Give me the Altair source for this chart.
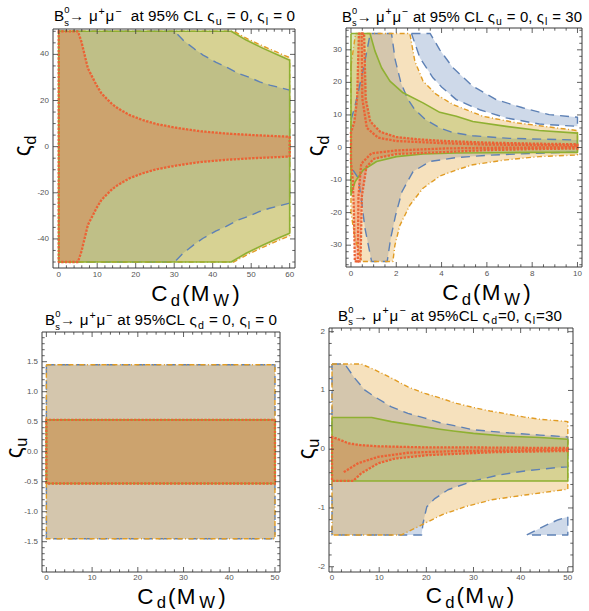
import altair as alt
import pandas as pd

BLUE = "#5E81B5"; ORANGE = "#E19C24"; GREEN = "#8FB032"; RED = "#EB6235"
FRAME = "#3a3a3a"; LABEL = "#555555"; FONT = "Liberation Sans"

# ---------------- Panel 1 : zeta_u = 0, zeta_l = 0 ----------------
p1_blue_hx = [0, 30.1, 32.3, 35.3, 37.5, 40.9, 43.5, 46.6, 49.6, 52.2, 54.8, 60]
p1_blue_hy = [50, 50, 46.2, 42.3, 39.7, 36.5, 34.6, 31.8, 30.0, 28.1, 26.7, 24.5]
p1_blue_lx = [0, 30.1, 32.3, 35.3, 37.5, 40.9, 43.5, 46.6, 49.6, 52.2, 54.8, 60]
p1_blue_ly = [-50, -50, -46.2, -42.3, -39.7, -36.5, -34.6, -31.8, -30.0, -28.1, -26.7, -24.5]
p1_orange_hx = [0, 45.5, 49.2, 53.6, 57.7, 60]
p1_orange_hy = [50, 50, 46.6, 43.2, 40.2, 38.6]
p1_orange_lx = [0, 45.5, 49.2, 53.6, 57.7, 60]
p1_orange_ly = [-50, -50, -46.6, -43.2, -40.2, -38.6]
p1_green_hx = [0, 44.8, 48.7, 53.1, 57.4, 60]
p1_green_hy = [50, 50, 46.2, 42.6, 39.4, 37.5]
p1_green_lx = [0, 44.8, 48.7, 53.1, 57.4, 60]
p1_green_ly = [-50, -50, -46.2, -42.6, -39.4, -37.5]
p1_red_hx = [0, 5.0, 5.9, 6.75, 7.6, 8.7, 9.8, 11.1, 12.4, 13.9, 15.4, 18.4, 21.9, 25.4, 30.5, 36.6, 43.5, 50.5, 60]
p1_red_hy = [50, 50, 45.5, 39.7, 33.9, 30.3, 26.7, 23.1, 20.9, 18.4, 16.6, 13.7, 11.5, 9.8, 8.2, 6.7, 5.7, 5.0, 4.3]
p1_red_lx = [0, 5.0, 5.9, 6.75, 7.6, 8.7, 9.8, 11.1, 12.4, 13.9, 15.4, 18.4, 21.9, 25.4, 30.5, 36.6, 43.5, 50.5, 60]
p1_red_ly = [-50, -50, -45.5, -39.7, -33.9, -30.3, -26.7, -23.1, -20.9, -18.4, -16.6, -13.7, -11.5, -9.8, -8.2, -6.7, -5.7, -5.0, -4.3]

# ---------------- Panel 2 : zeta_u = 0, zeta_l = 30 ----------------
p2_blue_hx = [0, 0.15, 0.35, 0.6, 0.85, 1.79, 1.95, 2.2, 2.5, 2.82, 3.3, 3.92, 4.5, 5.38, 7, 10]
p2_blue_hy = [8.5, 12, 18, 26, 35, 35, 27, 20, 15, 11.6, 8.5, 6, 4.6, 3.6, 2.8, 2.3]
p2_blue_lx = [0, 0.32, 0.47, 0.62, 0.91, 1.6, 1.75, 1.97, 2.25, 2.74, 3.48, 4.65, 6, 8, 10]
p2_blue_ly = [-6, -9.4, -16.7, -24.9, -35, -35, -28, -20.8, -13.6, -7.4, -4.3, -3.1, -2.4, -1.8, -1.4]
p2_blueb_hx = [2.67, 3.5, 3.92, 4.5, 5.38, 6.41, 7.58, 8.75, 10]
p2_blueb_hy = [35, 35, 30, 24.5, 18.8, 14.7, 12.2, 10.1, 9.3]
p2_blueb_lx = [2.67, 3.04, 3.62, 4.0, 4.65, 5.68, 6.85, 8.31, 10]
p2_blueb_ly = [35, 27.6, 21.4, 18.6, 14.7, 11.6, 9.1, 7.2, 6.5]
p2_orange_hx = [0, 0.1, 0.2, 2.6, 2.82, 3.18, 3.77, 4.5, 5.82, 7.29, 8.75, 10]
p2_orange_hy = [25, 30, 35, 35, 26.5, 20.4, 16.3, 13.2, 9.6, 7.6, 6.3, 5.2]
p2_orange_lx = [0, 0.18, 0.4, 0.47, 1.85, 1.94, 2.16, 2.6, 3.18, 3.92, 4.65, 5.38, 6.85, 8.31, 10]
p2_orange_ly = [-20, -28, -33, -35, -35, -30, -23.9, -17.7, -12.5, -8.8, -6.9, -5.3, -3.8, -2.8, -2.3]
p2_green_hx = [0, 0.84, 1.06, 1.35, 1.72, 2.3, 3.18, 3.92, 4.65, 5.38, 6.85, 8.31, 10]
p2_green_hy = [35, 35, 29.6, 24.5, 20.4, 16.8, 13.7, 10.8, 9.6, 8.0, 6.5, 5.2, 4.4]
p2_green_lx = [0, 0.18, 0.54, 1.13, 2.01, 3.18, 4.65, 6.33, 8, 10]
p2_green_ly = [-14.6, -10.5, -6.9, -4.3, -2.8, -2.0, -1.7, -1.6, -1.5, -1.5]
p2_red_hx = [0, 0.15, 0.27, 0.35, 0.58, 0.65, 0.85, 1.3, 2, 3, 4.13, 6, 8, 10]
p2_red_hy = [4.5, 8, 15, 35, 35, 15, 8, 4.8, 3.2, 2.5, 2.0, 1.5, 1.2, 1.0]
p2_red_lx = [0, 0.08, 0.13, 0.17, 0.42, 0.48, 0.68, 1, 2, 4.13, 6, 8, 10]
p2_red_ly = [-4.5, -10, -20, -35, -35, -15, -6, -3.5, -2, -1.4, -0.8, -0.5, -0.3]
p2_redin1_x = [0.47, 0.5, 0.7, 1.2, 2, 4.13, 6, 10]
p2_redin1_y = [35, 15, 6, 3, 2, 1.3, 0.9, 0.6]
p2_redin2_x = [0.3, 0.33, 0.45, 0.9, 2, 4.13, 6, 10]
p2_redin2_y = [-35, -15, -5, -1.8, -0.9, -0.3, -0.1, 0.1]

# ---------------- Panel 3 : zeta_d = 0, zeta_l = 0 ----------------
p3_outer_x = [0, 50]
p3_outer_hy = [1.45, 1.45]
p3_outer_ly = [-1.45, -1.45]
p3_inner_hy = [0.53, 0.53]
p3_inner_ly = [-0.53, -0.53]

# ---------------- Panel 4 : zeta_d = 0, zeta_l = 30 ----------------
p4_orange_hx = [0, 6.2, 9.1, 12.6, 16.1, 19.7, 23.0, 26.4, 30, 33.5, 37.1, 40.6, 44.1, 50]
p4_orange_hy = [1.45, 1.45, 1.35, 1.21, 1.06, 0.95, 0.87, 0.78, 0.71, 0.65, 0.60, 0.55, 0.51, 0.47]
p4_orange_lx = [0, 14.7, 19, 23.2, 28.2, 33.9, 40.9, 50]
p4_orange_ly = [-1.46, -1.46, -1.29, -1.12, -0.98, -0.86, -0.78, -0.68]
p4_blue_hx = [0, 2.7, 4.8, 6.9, 9.1, 12.6, 16.1, 19.7, 22.9, 25.4, 30, 37.1, 44.1, 50]
p4_blue_hy = [1.45, 1.45, 1.21, 1.01, 0.89, 0.72, 0.61, 0.53, 0.45, 0.41, 0.33, 0.28, 0.24, 0.21]
p4_blue_lx = [0, 19.0, 19.3, 20.1, 21.8, 24.6, 29.6, 35.3, 40.9, 48, 50]
p4_blue_ly = [-1.46, -1.46, -1.26, -0.98, -0.84, -0.69, -0.55, -0.44, -0.37, -0.31, -0.30]
p4_blueb_hx = [41.3, 44, 46, 48, 50]
p4_blueb_hy = [-1.46, -1.35, -1.27, -1.2, -1.15]
p4_blueb_lx = [41.3, 50]
p4_blueb_ly = [-1.46, -1.46]
p4_green_hx = [0, 8.4, 12.6, 19.7, 22.9, 25.7, 30, 37.1, 44.1, 50]
p4_green_hy = [0.54, 0.54, 0.47, 0.38, 0.34, 0.31, 0.27, 0.22, 0.20, 0.17]
p4_green_lx = [0, 50]
p4_green_ly = [-0.54, -0.54]
p4_red_hx = [0, 2, 3.5, 6, 9.8, 15, 20, 30, 40, 50]
p4_red_hy = [0.21, 0.15, 0.10, 0.07, 0.05, 0.04, 0.03, 0.03, 0.025, 0.02]
p4_red_lx = [0, 4.5, 6.2, 9.8, 13.3, 20.4, 34.6, 50]
p4_red_ly = [-0.54, -0.54, -0.41, -0.24, -0.16, -0.10, -0.05, -0.03]
p4_redin_x = [2.7, 5.5, 9.8, 16.1, 26.8, 50]
p4_redin_y = [-0.38, -0.24, -0.13, -0.06, -0.03, -0.01]

# ---------------- ticks ----------------
def rng(a, b, s):
    out = []; v = a
    while v <= b + 1e-9:
        out.append(round(v, 6)); v += s
    return out

def minors(a, b, s, majors):
    return [v for v in rng(a, b, s) if all(abs(v - m) > 1e-6 for m in majors)]

p1_xmaj = rng(0, 60, 10); p1_ymaj = rng(-40, 40, 20)
p2_xmaj = rng(0, 10, 2); p2_ymaj = rng(-30, 30, 10)
p3_xmaj = rng(0, 50, 10); p3_ymaj = rng(-1.5, 1.5, 0.5)
p4_xmaj = rng(0, 50, 10); p4_ymaj = rng(-2, 2, 1)

STYLE = {
    "blue": (BLUE, [9, 6], 1.4, "butt"),
    "orange": (ORANGE, [5, 2.5, 1, 2.5], 1.4, "butt"),
    "green": (GREEN, None, 1.6, "butt"),
    "red": (RED, [0.1, 3.6], 2.3, "square"),
}

def loop(hx, hy, lx, ly):
    xs = list(hx) + list(reversed(lx)) + [hx[0]]
    ys = list(hy) + list(reversed(ly)) + [hy[0]]
    return pd.DataFrame({"x": xs, "y": ys, "i": range(len(xs))})

def panel(fr, regions, extra, xmaj, xmin, ymaj, ymin, xfmt, yfmt, xlab_y, ylab_x):
    xs = alt.Scale(domain=fr["xd"], range=[fr["l"], fr["r"]], nice=False, zero=False)
    ys = alt.Scale(domain=fr["yd"], range=[fr["b"], fr["t"]], nice=False, zero=False)
    X = alt.X("x:Q", scale=xs, axis=None)
    Y = alt.Y("y:Q", scale=ys, axis=None)
    layers = []
    for kind, hx, hy, lx, ly in regions:
        col = STYLE[kind][0]
        layers.append(alt.Chart(loop(hx, hy, lx, ly)).mark_line(
            fill=col, fillOpacity=0.3, strokeOpacity=0).encode(x=X, y=Y, order="i:Q"))
    for kind, hx, hy, lx, ly in regions:
        col, dash, sw, cap = STYLE[kind]
        kw = dict(color=col, strokeWidth=sw, strokeCap=cap, strokeJoin="round")
        if dash:
            kw["strokeDash"] = dash
        layers.append(alt.Chart(loop(hx, hy, lx, ly)).mark_line(**kw).encode(x=X, y=Y, order="i:Q"))
    for kind, ex, ey in extra:
        col, dash, sw, cap = STYLE[kind]
        kw = dict(color=col, strokeWidth=sw, strokeCap=cap)
        if dash:
            kw["strokeDash"] = dash
        df = pd.DataFrame({"x": ex, "y": ey, "i": range(len(ex))})
        layers.append(alt.Chart(df).mark_line(**kw).encode(x=X, y=Y, order="i:Q"))
    one = pd.DataFrame({"a": [0]})
    layers.append(alt.Chart(one).mark_rect(fillOpacity=0, stroke=FRAME, strokeWidth=1).encode(
        x=alt.value(fr["l"]), x2=alt.value(fr["r"]), y=alt.value(fr["t"]), y2=alt.value(fr["b"])))
    XV = alt.X("v:Q", scale=xs, axis=None)
    YV = alt.Y("v:Q", scale=ys, axis=None)
    for vals, ln in ((xmaj, 5), (xmin, 2.7)):
        df = pd.DataFrame({"v": vals})
        layers.append(alt.Chart(df).mark_rule(color=FRAME, strokeWidth=0.8).encode(
            x=XV, y=alt.value(fr["b"]), y2=alt.value(fr["b"] - ln)))
        layers.append(alt.Chart(df).mark_rule(color=FRAME, strokeWidth=0.8).encode(
            x=XV, y=alt.value(fr["t"]), y2=alt.value(fr["t"] + ln)))
    for vals, ln in ((ymaj, 5), (ymin, 2.7)):
        df = pd.DataFrame({"v": vals})
        layers.append(alt.Chart(df).mark_rule(color=FRAME, strokeWidth=0.8).encode(
            y=YV, x=alt.value(fr["l"]), x2=alt.value(fr["l"] + ln)))
        layers.append(alt.Chart(df).mark_rule(color=FRAME, strokeWidth=0.8).encode(
            y=YV, x=alt.value(fr["r"]), x2=alt.value(fr["r"] - ln)))
    dfx = pd.DataFrame({"v": xmaj, "lab": [xfmt(v) for v in xmaj]})
    layers.append(alt.Chart(dfx).mark_text(font=FONT, fontSize=8, color=LABEL, baseline="middle").encode(
        x=XV, y=alt.value(xlab_y), text="lab:N"))
    dfy = pd.DataFrame({"v": ymaj, "lab": [yfmt(v) for v in ymaj]})
    layers.append(alt.Chart(dfy).mark_text(font=FONT, fontSize=8, color=LABEL, baseline="middle", align="right").encode(
        y=YV, x=alt.value(ylab_x), text="lab:N"))
    return alt.layer(*layers)

fi = lambda v: f"{int(round(v))}"
f1 = lambda v: f"{v:.1f}"

F1 = dict(l=53, r=295, t=29, b=268, xd=[-1.48, 61.38], yd=[-52.6, 51.0])
F2 = dict(l=346, r=582, t=28, b=267, xd=[-0.22, 10.2], yd=[-36.7, 36.7])
F3 = dict(l=42, r=280, t=332, b=572, xd=[-0.96, 51.1], yd=[-2.005, 1.995])
F4 = dict(l=329, r=573, t=328, b=572, xd=[-0.64, 51.1], yd=[-2.09, 2.063])

panel1 = panel(F1, [
    ("blue", p1_blue_hx, p1_blue_hy, p1_blue_lx, p1_blue_ly),
    ("orange", p1_orange_hx, p1_orange_hy, p1_orange_lx, p1_orange_ly),
    ("green", p1_green_hx, p1_green_hy, p1_green_lx, p1_green_ly),
    ("red", p1_red_hx, p1_red_hy, p1_red_lx, p1_red_ly)], [],
    p1_xmaj, minors(0, 60, 2, p1_xmaj), p1_ymaj, minors(-50, 50, 5, p1_ymaj), fi, fi, 275, 49)

panel2 = panel(F2, [
    ("blue", p2_blue_hx, p2_blue_hy, p2_blue_lx, p2_blue_ly),
    ("blue", p2_blueb_hx, p2_blueb_hy, p2_blueb_lx, p2_blueb_ly),
    ("orange", p2_orange_hx, p2_orange_hy, p2_orange_lx, p2_orange_ly),
    ("green", p2_green_hx, p2_green_hy, p2_green_lx, p2_green_ly),
    ("red", p2_red_hx, p2_red_hy, p2_red_lx, p2_red_ly)],
    [("red", p2_redin1_x, p2_redin1_y), ("red", p2_redin2_x, p2_redin2_y)],
    p2_xmaj, minors(0, 10, 0.5, p2_xmaj), p2_ymaj, minors(-36, 36, 2, p2_ymaj), fi, fi, 274, 342)

panel3 = panel(F3, [
    ("blue", p3_outer_x, p3_outer_hy, p3_outer_x, p3_outer_ly),
    ("orange", p3_outer_x, p3_outer_hy, p3_outer_x, p3_outer_ly),
    ("green", p3_outer_x, p3_inner_hy, p3_outer_x, p3_inner_ly),
    ("red", p3_outer_x, p3_inner_hy, p3_outer_x, p3_inner_ly)], [],
    p3_xmaj, minors(0, 50, 2, p3_xmaj), p3_ymaj, minors(-1.9, 1.9, 0.1, p3_ymaj), fi, f1, 578, 38)

panel4 = panel(F4, [
    ("blue", p4_blue_hx, p4_blue_hy, p4_blue_lx, p4_blue_ly),
    ("blue", p4_blueb_hx, p4_blueb_hy, p4_blueb_lx, p4_blueb_ly),
    ("orange", p4_orange_hx, p4_orange_hy, p4_orange_lx, p4_orange_ly),
    ("green", p4_green_hx, p4_green_hy, p4_green_lx, p4_green_ly),
    ("red", p4_red_hx, p4_red_hy, p4_red_lx, p4_red_ly)],
    [("red", p4_redin_x, p4_redin_y)],
    p4_xmaj, minors(0, 50, 2, p4_xmaj), p4_ymaj, minors(-2, 2, 0.2, p4_ymaj), fi, fi, 578, 325)

# ---------------- rich text (titles with sub/superscripts) ----------------
AW = {' ': 278, 'a': 556, 't': 278, '9': 556, '5': 556, '%': 889, 'C': 722, 'L': 556, '=': 584,
      '0': 556, '3': 556, ',': 278, 'B': 667, 's': 500, 'u': 556, 'l': 222, 'd': 556, 'M': 833,
      'W': 944, '(': 333, ')': 333, '+': 584, '−': 584, 'μ': 576, 'ς': 500, '→': 1000}

def cw(c, fs):
    return AW.get(c, 556) * fs / 1000.0

def layout_chars(segs, size, sub, subdy, pad):
    chars = []
    for text, kind in segs:
        if kind == "n":
            fs, dy, adv, p = size, 0.0, True, 0.0
        elif kind == "sup":
            fs, dy, adv, p = sub * size, -0.42 * size, True, pad
        elif kind == "supn":
            fs, dy, adv, p = 0.62 * size, -0.52 * size, False, 0.0
        elif kind == "subs":
            fs, dy, adv, p = 0.62 * size, 0.3 * size, True, 0.0
        else:
            fs, dy, adv, p = sub * size, subdy * size, True, pad
        for c in text:
            chars.append((c, dy, fs, (cw(c, fs) if adv else 0.0), p))
    return chars

def rich(segs, x_left, x_right, base, size, max_spread=10.0, sub=0.7, subdy=0.24, pad=0.0):
    span = x_right - x_left
    chars = layout_chars(segs, size, sub, subdy, pad)
    total = sum(a + 2 * p for _, _, _, a, p in chars)
    if total > span:
        size = size * span / total * 0.985
        chars = layout_chars(segs, size, sub, subdy, pad)
        total = sum(a + 2 * p for _, _, _, a, p in chars)
    last = chars[-1][3]
    spread = max(1.0, min((span - last) / (total - last), max_spread))
    width = (total - last) * spread + last
    x = (x_left + x_right) / 2.0 - width / 2.0
    rows = []
    for c, dy, fs, a, p in chars:
        x += p * spread
        if c != " ":
            rows.append(dict(px=x, py=base + dy, t=c, fs=fs))
        x += (a + p) * spread
    return rows

arrow = [("B", "n"), ("0", "supn"), ("s", "subs"), ("→ μ", "n"), ("+", "sup"), ("μ", "n"), ("−", "sup")]
t1 = arrow + [("  at 95% CL ς", "n"), ("u", "sub"), (" = 0, ς", "n"), ("l", "sub"), (" = 0", "n")]
t2 = arrow + [(" at 95% CL ς", "n"), ("u", "sub"), (" = 0, ς", "n"), ("l", "sub"), (" = 30", "n")]
t3 = arrow + [(" at 95%CL ς", "n"), ("d", "sub"), (" = 0, ς", "n"), ("l", "sub"), (" = 0", "n")]
t4 = arrow + [(" at 95%CL ς", "n"), ("d", "sub"), ("=0, ς", "n"), ("l", "sub"), ("=30", "n")]
xt = [("C", "n"), ("d", "sub"), ("(M", "n"), ("W", "sub"), (")", "n")]

rows = []
rows += rich(t1, 54, 295, 21, 15.5, pad=0.7)
rows += rich(t2, 342, 582, 21.5, 15.5, pad=0.7)
rows += rich(t3, 45, 277, 325, 15.5, pad=0.7)
rows += rich(t4, 338, 562, 320.5, 15.5, pad=0.9)
rows += rich(xt, 144, 247, 301, 22.5, 1.2, 0.74, 0.2)
rows += rich(xt, 435, 538, 300, 22.5, 1.2, 0.74, 0.2)
rows += rich(xt, 130, 233, 603.5, 22.5, 1.2, 0.74, 0.2)
rows += rich(xt, 418, 522, 603, 22.5, 1.2, 0.74, 0.2)
text_df = pd.DataFrame(rows)

texts = alt.Chart(text_df).mark_text(font=FONT, align="left", baseline="alphabetic", color="black").encode(
    x=alt.X("px:Q", scale=None, axis=None), y=alt.Y("py:Q", scale=None, axis=None),
    text="t:N", size=alt.Size("fs:Q", scale=None, legend=None))

# rotated y titles: zeta with subscript
def ytitle(sub, bx, cy, size):
    w1 = cw("ς", size); w2 = cw(sub, 0.72 * size)
    y0 = cy + (w1 + w2) / 2.0
    return [dict(px=bx, py=y0, t="ς", fs=size), dict(px=bx + 0.24 * size, py=y0 - w1, t=sub, fs=0.72 * size)]

yrows = []
yrows += ytitle("d", 30, 146, 23)
yrows += ytitle("d", 323, 146, 23)
yrows += ytitle("u", 21.5, 448, 23)
yrows += ytitle("u", 313.5, 449, 23)
ytexts = alt.Chart(pd.DataFrame(yrows)).mark_text(font=FONT, align="left", baseline="alphabetic", angle=270, color="black").encode(
    x=alt.X("px:Q", scale=None, axis=None), y=alt.Y("py:Q", scale=None, axis=None),
    text="t:N", size=alt.Size("fs:Q", scale=None, legend=None))

chart = alt.layer(panel1, panel2, panel3, panel4, texts, ytexts).resolve_scale(
    x="independent", y="independent", size="independent"
).properties(
    width=589, height=611, padding=0, autosize=alt.AutoSizeParams(type="none")
).configure_view(stroke="transparent")

chart.save("out.html", embed_options={"renderer": "svg", "actions": False})
